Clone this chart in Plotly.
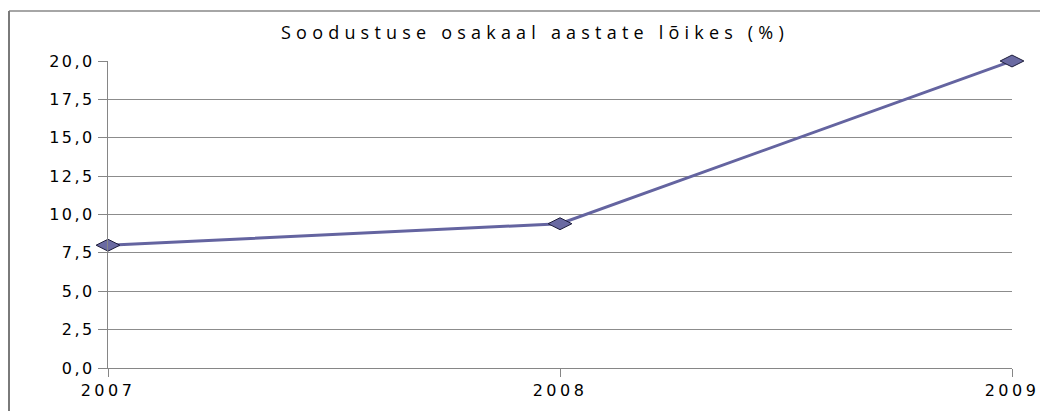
import plotly.graph_objects as go

years = ["2007", "2008", "2009"]
values = [8.0, 9.4, 20.0]
y_ticks = [0, 2.5, 5, 7.5, 10, 12.5, 15, 17.5, 20]
y_tick_labels = ["0,0", "2,5", "5,0", "7,5", "10,0", "12,5", "15,0", "17,5", "20,0"]
title_text = "Soodustuse osakaal aastate lõikes (%)"

fig = go.Figure()
fig.add_trace(go.Scatter(
    x=years, y=values, mode="lines+markers",
    line=dict(color="#6464a0", width=3),
    marker=dict(symbol="diamond-wide", size=17, color="#6a6aa2",
                line=dict(color="#1e1e3c", width=1)),
    showlegend=False, cliponaxis=False,
))

# page body has an 8px margin; figure coordinates are relative to (8, 8)
W, H = 1040, 403
L, R, T, B = 100, 36, 53, 43
pw = W - L - R
ph = H - T - B

fig.update_layout(
    width=W, height=H,
    margin=dict(l=L, r=R, t=T, b=B),
    paper_bgcolor="white", plot_bgcolor="white",
    title=dict(text=title_text, x=(527 - L) / pw, xref="paper", xanchor="center",
               y=1 - 25 / H, yanchor="middle",
               font=dict(family="Open Sans", size=18, color="#000000")),
    xaxis=dict(type="category", range=[0, 2], showgrid=False,
               showline=True, linecolor="#868686", linewidth=1,
               ticks="outside", ticklen=8, tickcolor="#868686",
               tickfont=dict(family="DejaVu Sans", size=16, color="#000000"),
               zeroline=False),
    yaxis=dict(range=[0, 20], tickvals=y_ticks, ticktext=y_tick_labels,
               showgrid=True, gridcolor="#8c8c8c", gridwidth=1,
               showline=True, linecolor="#868686", linewidth=1,
               ticks="outside", ticklen=9, tickcolor="#868686",
               tickfont=dict(family="DejaVu Sans", size=16, color="#000000"),
               zeroline=False),
    shapes=[
        dict(type="line", xref="paper", yref="paper",
             x0=(1 - L) / pw, x1=(W + 5 - L) / pw,
             y0=(H - B - 3) / ph, y1=(H - B - 3) / ph,
             line=dict(color="#a6a6a6", width=2)),
        dict(type="line", xref="paper", yref="paper",
             x0=(1 - L) / pw, x1=(1 - L) / pw,
             y0=(H - B - 3) / ph, y1=(H - B - H - 5) / ph,
             line=dict(color="#7a7a7a", width=2)),
    ],
)

post = """
var gd = document.getElementById('{plot_id}');
function fixSpacing() {
  gd.querySelectorAll('.gtitle').forEach(function(e){ e.style.letterSpacing = '5.2px'; });
  gd.querySelectorAll('.xtick text').forEach(function(e){ e.style.letterSpacing = '3.5px'; });
  gd.querySelectorAll('.ytick text').forEach(function(e){ e.style.letterSpacing = '2.5px'; });
}
fixSpacing();
gd.on('plotly_afterplot', fixSpacing);
"""

fig.write_html("out.html", post_script=post)
